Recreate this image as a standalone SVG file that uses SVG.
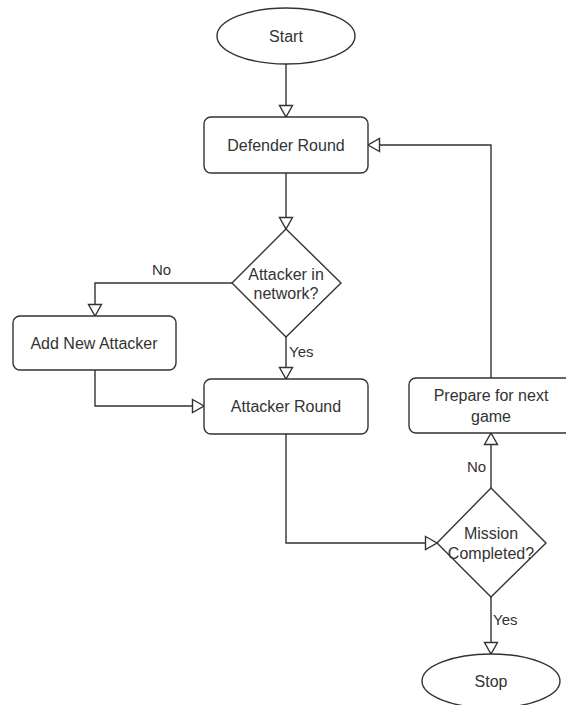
<svg xmlns="http://www.w3.org/2000/svg" width="566" height="705" viewBox="0 0 566 705">
  <style>
    .shape { fill: #ffffff; stroke: #333333; stroke-width: 1.4; }
    .edge { fill: none; stroke: #333333; stroke-width: 1.4; }
    .label { font-family: "Liberation Sans", Arial, sans-serif; font-size: 16px; fill: #333333; text-anchor: middle; }
    .elabel { font-family: "Liberation Sans", Arial, sans-serif; font-size: 15px; fill: #333333; }
  </style>
  <defs>
    <marker id="openArrow" markerUnits="userSpaceOnUse" markerWidth="16" markerHeight="16" viewBox="0 0 16 16" refX="13" refY="8" orient="auto">
      <path d="M1.5,1.5 L13,8 L1.5,14.5 Z" fill="#ffffff" stroke="#333333" stroke-width="1.4"/>
    </marker>
  </defs>

  <rect width="566" height="705" fill="#ffffff"/>

  <g id="connectors">
    <path class="edge" d="M286,64 L286,117" marker-end="url(#openArrow)"/>
    <path class="edge" d="M286,173 L286,229" marker-end="url(#openArrow)"/>
    <path class="edge" d="M232,283 L95,283 L95,316" marker-end="url(#openArrow)"/>
    <path class="edge" d="M286,337 L286,379" marker-end="url(#openArrow)"/>
    <path class="edge" d="M95,370 L95,406 L204,406" marker-end="url(#openArrow)"/>
    <path class="edge" d="M286,434 L286,543 L437,543" marker-end="url(#openArrow)"/>
    <path class="edge" d="M491,488 L491,433" marker-end="url(#openArrow)"/>
    <path class="edge" d="M491,378 L491,145 L368,145" marker-end="url(#openArrow)"/>
    <path class="edge" d="M491,597 L491,654" marker-end="url(#openArrow)"/>
    <text class="elabel" x="152" y="275">No</text>
    <text class="elabel" x="289" y="357">Yes</text>
    <text class="elabel" x="467" y="472">No</text>
    <text class="elabel" x="493" y="625">Yes</text>
  </g>

  <g id="start">
    <ellipse class="shape" cx="286" cy="36" rx="69" ry="28"/>
    <text class="label" x="286" y="42">Start</text>
  </g>

  <g id="defender-round">
    <rect class="shape" x="204" y="117" width="164" height="56" rx="7"/>
    <text class="label" x="286" y="151">Defender Round</text>
  </g>

  <g id="attacker-in-network">
    <polygon class="shape" points="286,229 341,283 286,337 232,283"/>
    <text class="label" x="286" y="280">Attacker in</text>
    <text class="label" x="286" y="299">network?</text>
  </g>

  <g id="add-new-attacker">
    <rect class="shape" x="13" y="316" width="163" height="54" rx="7"/>
    <text class="label" x="94" y="349">Add New Attacker</text>
  </g>

  <g id="attacker-round">
    <rect class="shape" x="204" y="379" width="164" height="55" rx="7"/>
    <text class="label" x="286" y="412">Attacker Round</text>
  </g>

  <g id="prepare-next-game">
    <rect class="shape" x="409" y="378" width="164" height="55" rx="7"/>
    <text class="label" x="491" y="401">Prepare for next</text>
    <text class="label" x="491" y="422">game</text>
  </g>

  <g id="mission-completed">
    <polygon class="shape" points="491,488 546,543 491,597 437,543"/>
    <text class="label" x="491" y="539">Mission</text>
    <text class="label" x="491" y="559">Completed?</text>
  </g>

  <g id="stop">
    <ellipse class="shape" cx="491" cy="681" rx="69" ry="27"/>
    <text class="label" x="491" y="687">Stop</text>
  </g>
</svg>
